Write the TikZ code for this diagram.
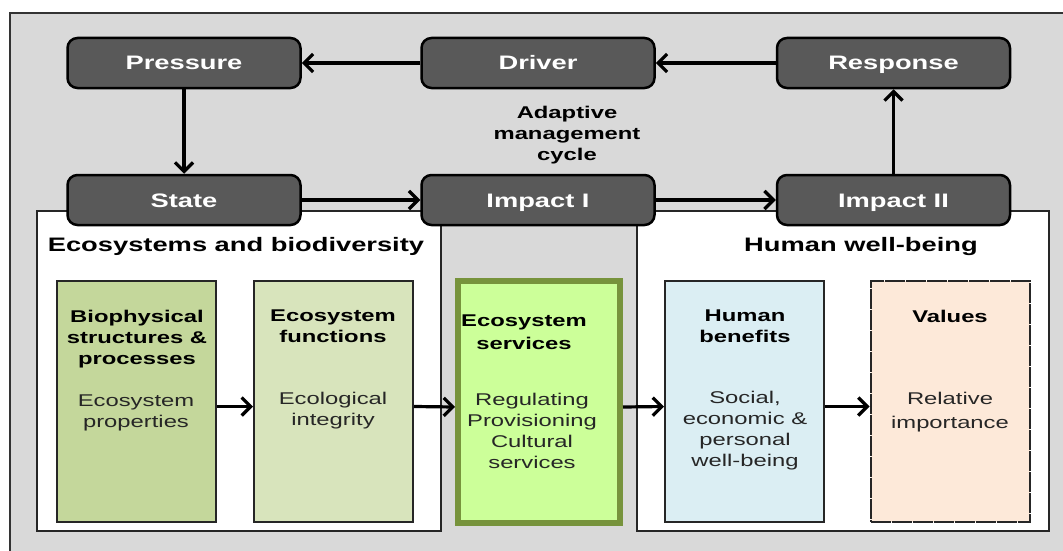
\documentclass[tikz,border=0pt]{standalone}
\usepackage{fontspec}
\setmainfont{Liberation Sans}[FakeStretch=1.4]
\usetikzlibrary{arrows.meta}
\definecolor{bggray}{HTML}{D9D9D9}
\definecolor{nodegray}{HTML}{595959}
\definecolor{biofill}{HTML}{C4D79B}
\definecolor{funfill}{HTML}{D8E4BC}
\definecolor{svcfill}{HTML}{CCFF99}
\definecolor{svcborder}{HTML}{77933C}
\definecolor{benfill}{HTML}{DBEEF3}
\definecolor{valfill}{HTML}{FDE9D9}
\definecolor{bodytext}{HTML}{262626}
\tikzset{
  dpsir/.style={draw=black, line width=2.5pt, fill=nodegray, rounded corners=10pt,
    minimum width=233pt, minimum height=50pt, inner sep=0pt, text height=14pt, text depth=0pt,
    text=white, font=\fontsize{19.5}{24}\selectfont\bfseries},
  panel/.style={draw=black!85, line width=2pt, fill=white},
  cbox/.style={draw=black!85, line width=2pt, minimum width=159pt, minimum height=241pt, inner sep=0pt},
  ttl/.style={align=center, font=\fontsize{17}{21}\selectfont\bfseries, text=black, inner sep=0pt},
  body/.style={align=center, font=\fontsize{17}{21}\selectfont, text=bodytext, inner sep=0pt},
  hdr/.style={font=\fontsize{19.5}{24}\selectfont\bfseries, text=black, inner sep=0pt},
  arr/.style={line width=3.2pt, -{Straight Barb[length=9pt,width=18pt]}},
}
\begin{document}
\begin{tikzpicture}[x=1pt,y=-1pt]
\useasboundingbox (0,0) rectangle (1063,551);
\fill[white] (0,0) rectangle (1063,551);
\fill[bggray] (10,13) rectangle (1063,551);
\draw[line width=1.5pt, black!80] (10,551) -- (10,13) -- (1063,13);

% panels
\draw[panel] (37,211) rectangle (441,531);
\draw[panel] (637,211) rectangle (1049,531);
\node[hdr] (hdrleft) at (236,246) {Ecosystems and biodiversity};
\node[hdr] (hdrright) at (861,246) {Human well-being};

% DPSIR nodes
\node[dpsir] (pressure) at (184,63) {Pressure};
\node[dpsir] (driver) at (538,63) {Driver};
\node[dpsir] (response) at (893.5,63) {Response};
\node[dpsir] (state) at (184,200) {State};
\node[dpsir] (impact1) at (538,200) {Impact I};
\node[dpsir] (impact2) at (893.5,200) {Impact II};

\node[align=center, font=\fontsize{17}{21}\selectfont\bfseries, inner sep=0pt] (amc) at (567,135) {Adaptive\\management\\cycle};

\draw[arr] (response.west) -- (driver.east);
\draw[arr] (driver.west) -- (pressure.east);
\draw[arr] (pressure.south) -- (state.north);
\draw[arr] (state.east) -- (impact1.west);
\draw[arr] (impact1.east) -- (impact2.west);
\draw[arr] (impact2.north) -- (response.south);

% cascade boxes
\node[cbox, fill=biofill] (bio) at (136.5,401.5) {};
\node[cbox, fill=funfill] (fun) at (333.5,401.5) {};
\node[draw=svcborder, line width=6pt, fill=svcfill, minimum width=162pt, minimum height=242pt, inner sep=0pt] (svc) at (539,402) {};
\node[cbox, fill=benfill] (ben) at (744.5,401.5) {};
\node[cbox, fill=valfill, dash pattern=on 20pt off 1pt] (val) at (950,401.5) {};

\node[ttl] (biot) at (137,339) {Biophysical\\structures \&\\processes};
\node[body] (biob) at (136,412.5) {Ecosystem\\properties};
\node[ttl] (funt) at (333,326.5) {Ecosystem\\functions};
\node[body] (funb) at (333,410.5) {Ecological\\integrity};
\node[ttl] (svct) at (524,332) {Ecosystem\\[2pt]services};
\node[body] (svcb) at (532,431) {Regulating\\Provisioning\\Cultural\\services};
\node[ttl] (bent) at (745,326.5) {Human\\benefits};
\node[body] (benb) at (745,431) {Social,\\economic \&\\personal\\well-being};
\node[ttl] (valt) at (950,316) {Values};
\node[body, font=\fontsize{17}{24}\selectfont] (valb) at (950,412) {Relative\\importance};

\draw[arr] ([yshift=-5pt]bio.east) -- ([yshift=-5pt]fun.west);
\draw[arr] ([yshift=-5pt]fun.east) -- ([yshift=-5pt]svc.west);
\draw[arr] ([yshift=-5pt]svc.east) -- ([yshift=-5pt]ben.west);
\draw[arr] ([yshift=-5pt]ben.east) -- ([yshift=-5pt]val.west);
\end{tikzpicture}
\end{document}
